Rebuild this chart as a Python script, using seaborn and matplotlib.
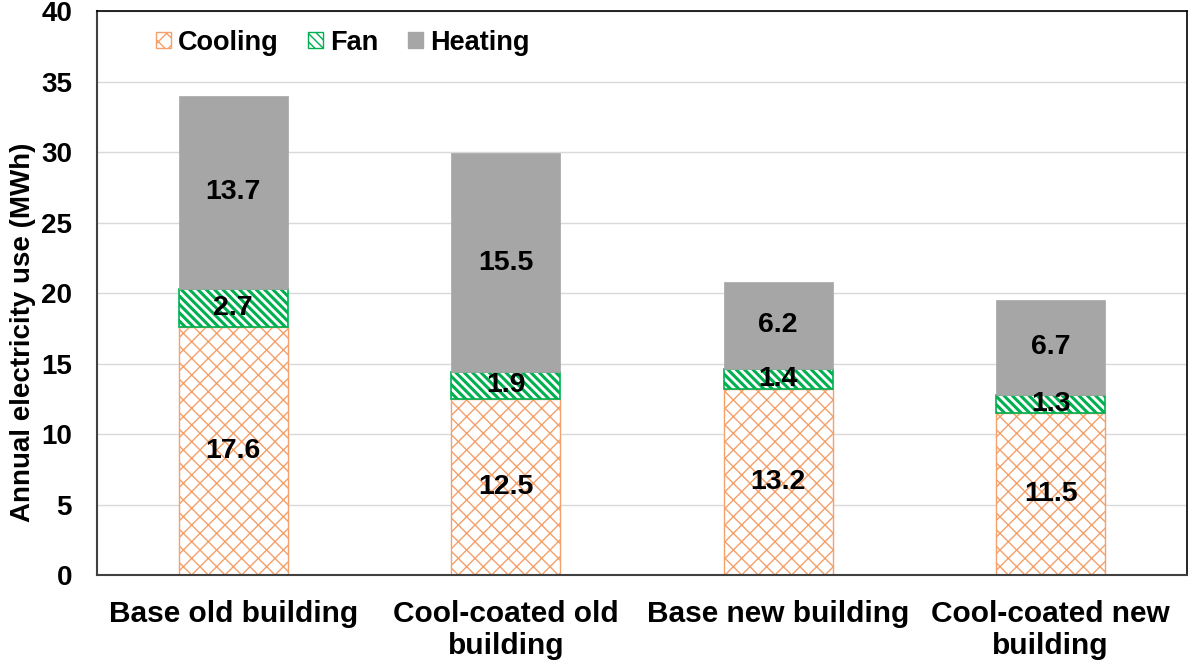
import matplotlib
matplotlib.use("Agg")
import matplotlib.pyplot as plt
import seaborn as sns
import pandas as pd
import numpy as np
from matplotlib.patches import Patch

categories = ["Base old building", "Cool-coated old\nbuilding", "Base new building", "Cool-coated new\nbuilding"]
cooling = [17.6, 12.5, 13.2, 11.5]
fan = [2.7, 1.9, 1.4, 1.3]
heating = [13.7, 15.5, 6.2, 6.7]
yticks = [0, 5, 10, 15, 20, 25, 30, 35, 40]

sns.set_theme(style="white")
plt.rcParams['font.family'] = ['Liberation Sans', 'DejaVu Sans']
plt.rcParams['font.weight'] = 'bold'
plt.rcParams['hatch.linewidth'] = 1.0
plt.rcParams['text.color'] = 'black'
plt.rcParams['axes.labelcolor'] = 'black'
plt.rcParams['xtick.color'] = 'black'
plt.rcParams['ytick.color'] = 'black'

df = pd.DataFrame({"cat": categories, "Cooling": cooling, "Fan": fan, "Heating": heating})
df["bottom_fan"] = df["Cooling"]
df["bottom_heat"] = df["Cooling"] + df["Fan"]

fig = plt.figure(figsize=(11.89, 6.63), dpi=100)
ax = fig.add_axes([0.0816, 0.1327, 0.9167, 0.8507])

orange = "#F4A06A"
green = "#00B050"
grey = "#A6A6A6"
W = 0.40

sns.barplot(data=df, x="cat", y="Cooling", ax=ax, color="white", width=W,
            edgecolor=orange, linewidth=1.0, hatch="xx", zorder=2)
n1 = len(ax.patches)
sns.barplot(data=df, x="cat", y="Fan", ax=ax, color="white", width=W,
            bottom=df["bottom_fan"].values, edgecolor=green, linewidth=1.2, hatch="\\\\\\\\", zorder=2)
n2 = len(ax.patches)
for p in ax.patches[n1:n2]:
    if hasattr(p, "set_hatch_linewidth"):
        p.set_hatch_linewidth(2.2)
sns.barplot(data=df, x="cat", y="Heating", ax=ax, color=grey, width=W,
            bottom=df["bottom_heat"].values, edgecolor=grey, linewidth=0.5, saturation=1, zorder=2)

for i in range(len(categories)):
    ax.text(i, cooling[i] / 2, f"{cooling[i]:.1f}", ha="center", va="center", fontsize=20.5, fontweight="bold", zorder=5)
    ax.text(i, cooling[i] + fan[i] / 2, f"{fan[i]:.1f}", ha="center", va="center", fontsize=20.5, fontweight="bold", zorder=5)
    ax.text(i, cooling[i] + fan[i] + heating[i] / 2, f"{heating[i]:.1f}", ha="center", va="center", fontsize=20.5, fontweight="bold", zorder=5)

ax.set_xlim(-0.5, 3.5)
ax.set_ylim(0, 40)
ax.set_yticks(yticks)
ax.set_yticklabels([str(t) for t in yticks], fontsize=20, fontweight="bold")
ax.set_xticks(range(len(categories)))
ax.set_xticklabels(categories, fontsize=21.5, fontweight="bold", linespacing=1.2)
ax.tick_params(axis="x", length=0, pad=18)
ax.tick_params(axis="y", length=0, pad=18)
ax.set_xlabel("")
ax.set_ylabel("Annual electricity use (MWh)", fontsize=20, fontweight="bold")
ax.yaxis.set_label_coords(-0.056, 0.43)
ax.yaxis.grid(True, color="#D9D9D9", linewidth=1.0, zorder=0)
ax.set_axisbelow(True)
for s in ["top", "right"]:
    ax.spines[s].set_color("black")
    ax.spines[s].set_linewidth(1.2)
ax.spines["left"].set_color("#404040")
ax.spines["bottom"].set_color("#404040")
ax.spines["left"].set_linewidth(1.5)
ax.spines["bottom"].set_linewidth(1.5)

handles = [Patch(facecolor="white", edgecolor=orange, hatch="xx", label="Cooling"),
           Patch(facecolor="white", edgecolor=green, hatch="\\\\\\\\", label="Fan"),
           Patch(facecolor=grey, edgecolor=grey, label="Heating")]
ax.legend(handles=handles, loc="upper left", bbox_to_anchor=(0.032, 1.01), ncol=3, frameon=False,
          handlelength=0.55, handleheight=0.55, handletextpad=0.25, columnspacing=1.1,
          prop={"weight": "bold", "size": 19.5})

fig.savefig("out.png", dpi=100)
